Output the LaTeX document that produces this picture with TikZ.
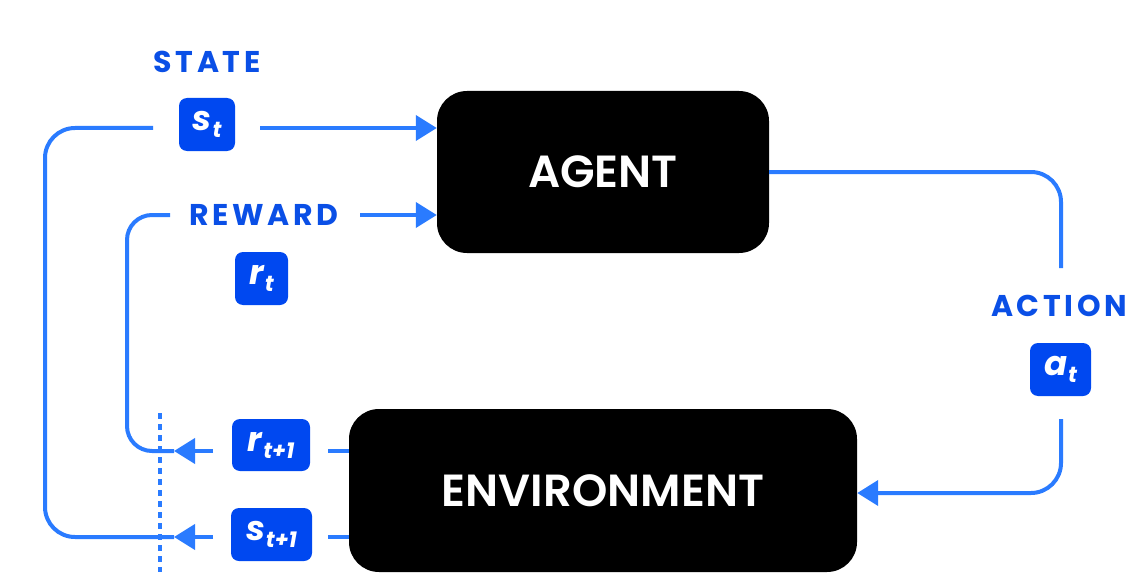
\documentclass[tikz,border=0pt]{standalone}
\usepackage{fontspec}
\setmainfont{Poppins}
\IfFontExistsTF{Poppins SemiBold}{\newfontfamily\medfont{Poppins SemiBold}}{\newfontfamily\medfont{Poppins}[FakeBold=3]}
\usetikzlibrary{arrows.meta}
\definecolor{boxblue}{HTML}{0048F0}
\definecolor{lineblue}{HTML}{2A7BFF}
\definecolor{textblue}{HTML}{0A4FE6}
\newcommand{\vsym}[2]{{\fontsize{34}{34}\selectfont\bfseries\itshape #1}\kern1pt\raisebox{-7pt}{\fontsize{22}{22}\selectfont\bfseries\itshape #2}}
\begin{document}
\begin{tikzpicture}[x=1pt,y=-1pt,
  bigbox/.style={fill=black, rounded corners=30pt, text=white, inner sep=0pt,
    font=\medfont\fontsize{45}{45}\selectfont},
  varbox/.style={fill=boxblue, rounded corners=8pt, text=white, inner sep=0pt, minimum height=53pt},
  lab/.style={text=textblue, inner sep=0pt, font=\fontsize{30}{30}\selectfont\bfseries\addfontfeature{LetterSpace=12}},
  flow/.style={draw=lineblue, line width=4pt},
  tipped/.style={-{Triangle[length=21pt,width=25pt]}}]
\useasboundingbox (0,0) rectangle (1145,583);

\node[bigbox, minimum width=332pt, minimum height=162pt] (agent) at (603,172) {AGENT};
\node[bigbox, minimum width=508pt, minimum height=163pt] (env) at (603,490.5) {ENVIRONMENT};

\node[lab] (statelab) at (207,62) {STATE};
\node[varbox, minimum width=56pt] (st) at (207,124.5) {\vsym{s}{t}};
\node[lab] (rewardlab) at (264,215) {REWARD};
\node[varbox, minimum width=53pt] (rt) at (261.5,278.5) {\vsym{r}{t}};
\node[lab] (actionlab) at (1059,306) {ACTION};
\node[varbox, minimum width=61pt] (at) at (1060.5,369.5) {\vsym{a}{t}};
\node[varbox, minimum width=78pt, minimum height=52pt] (rt1) at (271,445) {\vsym{r}{t+1}};
\node[varbox, minimum width=81pt] (st1) at (271.5,534.5) {\vsym{s}{t+1}};

% coordinates
\coordinate (stL) at (153,128);
\coordinate (stR) at (260,128);
\coordinate (agS) at (agent.west |- 0,128);
\coordinate (rwL) at (170,215);
\coordinate (rwR) at (360,215);
\coordinate (agR) at (agent.west |- 0,215);
\coordinate (r1R) at (213,451);
\coordinate (r1T) at (174,451);
\coordinate (r1E) at (328,451);
\coordinate (envR) at (env.west |- 0,451);
\coordinate (s1R) at (213,537);
\coordinate (s1T) at (174,537);
\coordinate (s1E) at (328,537);
\coordinate (envS) at (env.west |- 0,537);
\coordinate (acB) at (1061,268);
\coordinate (acT) at (1061,419);
\coordinate (envA) at (env.east |- 0,493);
\coordinate (dotT) at (160,413);
\coordinate (dotB) at (160,572);

% state
\draw[flow, tipped] (stR) -- (agS);
\draw[flow, rounded corners=30pt] (s1T) -- (45,537) -- (45,128) -- (stL);
\draw[flow, tipped] (s1R) -- (s1T);
\draw[flow] (s1E) -- (envS);
% reward
\draw[flow, tipped] (rwR) -- (agR);
\draw[flow, rounded corners=25pt] (r1T) -- (127,451) -- (127,215) -- (rwL);
\draw[flow, tipped] (r1R) -- (r1T);
\draw[flow] (r1E) -- (envR);
% action
\draw[flow, rounded corners=30pt] (agent.east) -- (1061,172) -- (acB);
\draw[flow, rounded corners=30pt, tipped] (acT) -- (1061,493) -- (envA);
% dotted line
\draw[draw=lineblue, line width=4pt, dash pattern=on 6pt off 5pt] (dotT) -- (dotB);
\end{tikzpicture}
\end{document}
